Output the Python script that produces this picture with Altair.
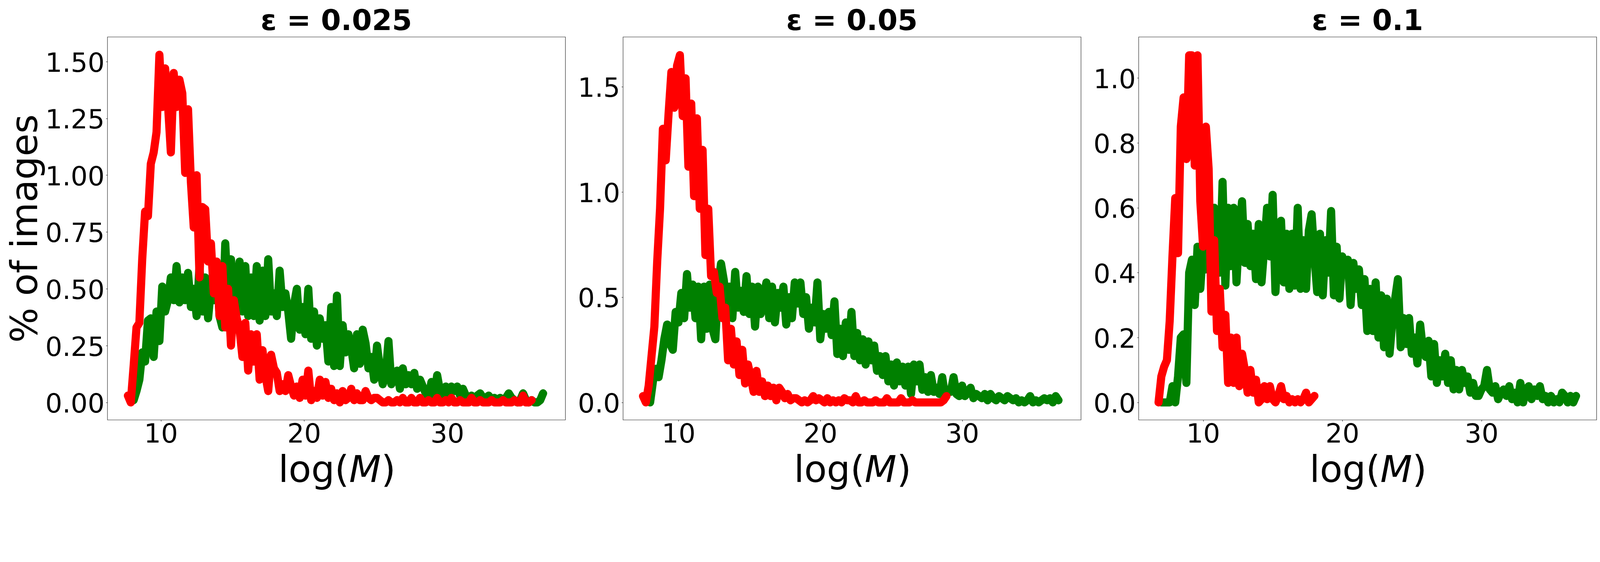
import altair as alt
import pandas as pd

STEP = 0.2  # bin spacing along log(M)

# ---------------- panel 1 : eps = 0.025 ----------------
p1_red_x0 = 7.7
p1_red = [
    0.03, 0.00, 0.16, 0.33, 0.35, 0.63, 0.84, 0.82, 1.05,
    1.10, 1.19, 1.53, 1.30, 1.47, 1.31, 1.10, 1.45, 1.30, 1.42,
    1.36, 1.01, 1.29, 0.97, 0.77, 1.00, 0.55, 0.86, 0.85, 0.62,
    0.70, 0.48, 0.62, 0.38, 0.60, 0.33, 0.50, 0.25, 0.45, 0.37,
    0.32, 0.20, 0.35, 0.14, 0.30, 0.18, 0.30, 0.10, 0.23, 0.12,
    0.05, 0.21, 0.15, 0.13, 0.05, 0.08, 0.05, 0.12, 0.07, 0.03,
    0.07, 0.02, 0.10, 0.03, 0.14, 0.01, 0.05, 0.02, 0.10, 0.03,
    0.09, 0.02, 0.06, 0.01, 0.04, 0.00, 0.05, 0.01, 0.02, 0.06,
    0.01, 0.04, 0.01, 0.01, 0.05, 0.02, 0.01, 0.02, 0.02, 0.01,
    0.00, 0.00, 0.01,
    0.00, 0.00, 0.01, 0.00, 0.02, 0.00, 0.00, 0.02, 0.00, 0.00,
    0.02, 0.00, 0.00, 0.01, 0.00, 0.00, 0.02, 0.00, 0.00, 0.01,
    0.00, 0.02, 0.00, 0.00, 0.01, 0.00, 0.00, 0.00, 0.02, 0.00,
    0.00, 0.01, 0.00, 0.00, 0.00, 0.01, 0.00, 0.00, 0.00, 0.01,
    0.00, 0.00, 0.00, 0.01, 0.00, 0.00, 0.03, 0.00, 0.00, 0.01,
]
p1_green_x0 = 8.1
p1_green = [
    0.01, 0.05, 0.10, 0.22, 0.18, 0.36, 0.37, 0.20, 0.40,
    0.27, 0.51, 0.40, 0.45, 0.55, 0.45, 0.60, 0.44, 0.55, 0.45,
    0.57, 0.42, 0.50, 0.38, 0.60, 0.40, 0.55, 0.37, 0.50, 0.45,
    0.60, 0.38, 0.33, 0.70, 0.45, 0.63, 0.48, 0.42, 0.62, 0.40,
    0.60, 0.38, 0.55, 0.38, 0.60, 0.36, 0.58, 0.38, 0.63, 0.40,
    0.48, 0.38, 0.58, 0.42, 0.48, 0.40, 0.28, 0.43, 0.50, 0.32,
    0.42, 0.30, 0.50, 0.28, 0.40, 0.25, 0.37, 0.28, 0.34, 0.18,
    0.42, 0.16, 0.47, 0.16, 0.34, 0.22, 0.30, 0.24, 0.15, 0.30,
    0.17, 0.32, 0.26, 0.15, 0.20, 0.10, 0.25, 0.15, 0.08, 0.12,
    0.27, 0.08, 0.13, 0.14, 0.06, 0.15, 0.08, 0.12, 0.08, 0.13,
    0.06, 0.10, 0.07, 0.04, 0.02, 0.09, 0.03, 0.12, 0.05, 0.02,
    0.07, 0.03, 0.07, 0.05, 0.07, 0.03, 0.06, 0.03, 0.02, 0.03,
    0.01, 0.03, 0.04, 0.02, 0.02, 0.03, 0.01, 0.02, 0.01, 0.02,
    0.01, 0.02, 0.04, 0.02, 0.01, 0.00, 0.01, 0.04, 0.01, 0.00,
    0.01, 0.00, 0.00, 0.01, 0.04,
]

# ---------------- panel 2 : eps = 0.05 ----------------
p2_red_x0 = 7.5
p2_red = [
    0.03, 0.00, 0.08, 0.22, 0.36, 0.67, 0.92, 1.30, 1.15,
    1.37, 1.57, 1.40, 1.60, 1.65, 1.36, 1.54, 1.12, 1.42, 0.98,
    1.35, 0.92, 1.20, 0.70, 0.92, 0.60, 0.62, 0.52, 0.55, 0.40,
    0.45, 0.20, 0.35, 0.18, 0.29, 0.13, 0.25, 0.09, 0.18, 0.12,
    0.05, 0.15, 0.05, 0.10, 0.03, 0.08, 0.03, 0.07, 0.01, 0.07,
    0.05, 0.02, 0.04, 0.01, 0.02, 0.02, 0.01, 0.00, 0.01, 0.00,
    0.01, 0.03, 0.01, 0.02, 0.01, 0.00, 0.02, 0.00, 0.01, 0.00,
    0.01, 0.00, 0.02, 0.01,
    0.01, 0.00, 0.03, 0.00, 0.00, 0.01, 0.00, 0.00, 0.00, 0.01,
    0.00, 0.00, 0.00, 0.02, 0.00, 0.00, 0.00, 0.00, 0.02, 0.00,
    0.00, 0.00, 0.01, 0.00, 0.00, 0.00, 0.00, 0.00, 0.00, 0.00,
    0.00, 0.00, 0.00, 0.01, 0.03,
]
p2_green_x0 = 8.0
p2_green = [
    0.00, 0.10, 0.16, 0.12, 0.20, 0.30, 0.37, 0.28, 0.25,
    0.43, 0.38, 0.52, 0.40, 0.61, 0.45, 0.56, 0.40, 0.55, 0.30,
    0.55, 0.35, 0.56, 0.35, 0.30, 0.55, 0.66, 0.58, 0.45, 0.55,
    0.40, 0.62, 0.45, 0.53, 0.43, 0.60, 0.42, 0.55, 0.36, 0.55,
    0.42, 0.50, 0.57, 0.40, 0.55, 0.38, 0.52, 0.45, 0.55, 0.37,
    0.50, 0.40, 0.57, 0.47, 0.57, 0.42, 0.50, 0.35, 0.45, 0.38,
    0.57, 0.30, 0.42, 0.35, 0.43, 0.32, 0.48, 0.23, 0.35, 0.22,
    0.38, 0.25, 0.43, 0.22, 0.33, 0.20, 0.30, 0.18, 0.29, 0.20,
    0.27, 0.15, 0.22, 0.13, 0.22, 0.10, 0.18, 0.08, 0.19, 0.10,
    0.17, 0.08, 0.17, 0.04, 0.18, 0.10, 0.18, 0.06, 0.12, 0.05,
    0.13, 0.05, 0.07, 0.04, 0.12, 0.03, 0.06, 0.05, 0.12, 0.04,
    0.03, 0.08, 0.03, 0.05, 0.07, 0.02, 0.04, 0.03, 0.02, 0.04,
    0.01, 0.04, 0.02, 0.01, 0.03, 0.02, 0.01, 0.03, 0.02, 0.01,
    0.02, 0.00, 0.01, 0.00, 0.01, 0.03, 0.00, 0.01, 0.00, 0.01,
    0.02, 0.01, 0.02, 0.00, 0.03, 0.01,
]

# ---------------- panel 3 : eps = 0.1 ----------------
p3_red_x0 = 6.8
p3_red = [
    0.00, 0.08, 0.11, 0.13, 0.25, 0.45, 0.63, 0.46, 0.85, 0.94,
    0.75, 1.07, 1.07, 0.73, 1.07, 0.62, 0.48, 0.85, 0.72, 0.28,
    0.50, 0.22, 0.35, 0.17, 0.27, 0.06, 0.20, 0.06, 0.20, 0.05,
    0.15, 0.10, 0.03, 0.10, 0.03, 0.07, 0.00, 0.01, 0.05, 0.01,
    0.05, 0.01, 0.00, 0.02, 0.05, 0.01, 0.02, 0.00, 0.01, 0.00,
    0.01, 0.00, 0.01, 0.03, 0.00, 0.01, 0.02,
]
p3_green_x0 = 7.0
p3_green = [
    0.00, 0.00, 0.00, 0.00, 0.05, 0.00, 0.08, 0.20, 0.21, 0.06,
    0.40, 0.44, 0.30, 0.48, 0.35, 0.48, 0.41, 0.50, 0.40, 0.60,
    0.57, 0.40, 0.68, 0.36, 0.60, 0.42, 0.60, 0.37, 0.53, 0.62,
    0.43, 0.55, 0.42, 0.52, 0.38, 0.55, 0.37, 0.48, 0.60, 0.45,
    0.64, 0.34, 0.50, 0.56, 0.37, 0.52, 0.35, 0.52, 0.36, 0.60,
    0.35, 0.50, 0.35, 0.53, 0.58, 0.45, 0.34, 0.52, 0.33, 0.50,
    0.40, 0.59, 0.33, 0.48, 0.32, 0.45, 0.40, 0.44, 0.30, 0.43,
    0.35, 0.41, 0.30, 0.38, 0.22, 0.35, 0.22, 0.37, 0.20, 0.33,
    0.17, 0.32, 0.15, 0.25, 0.32, 0.38, 0.17, 0.26, 0.18, 0.26,
    0.15, 0.20, 0.12, 0.24, 0.16, 0.14, 0.19, 0.08, 0.18, 0.06,
    0.13, 0.08, 0.15, 0.06, 0.13, 0.04, 0.10, 0.04, 0.10, 0.06,
    0.08, 0.03, 0.06, 0.02, 0.02, 0.04, 0.05, 0.10, 0.04, 0.03,
    0.05, 0.01, 0.03, 0.04, 0.02, 0.05, 0.01, 0.03, 0.00, 0.06,
    0.00, 0.04, 0.05, 0.01, 0.04, 0.02, 0.05, 0.01, 0.02, 0.00,
    0.02, 0.00, 0.01, 0.00, 0.03, 0.02, 0.00, 0.02, 0.00, 0.02,
]

TITLES = ["ε = 0.025", "ε = 0.05", "ε = 0.1"]
X_DOMAINS = [[6.265, 38.25], [6.085, 38.38], [5.364, 38.27]]
Y_DOMAINS = [[-0.0766, 1.6085], [-0.0827, 1.7367], [-0.0537, 1.1267]]
X_TICKS = [10, 20, 30]
Y_TICKS = [
    [0.0, 0.25, 0.5, 0.75, 1.0, 1.25, 1.5],
    [0.0, 0.5, 1.0, 1.5],
    [0.0, 0.2, 0.4, 0.6, 0.8, 1.0],
]
Y_FORMATS = [".2f", ".1f", ".1f"]
Y_TITLE = "% of images"
X_TITLE_PARTS = ["log(", "M", ")"]

W, H = 1239, 1037
FONT = "DejaVu Sans"
RED, GREEN = "#ff0000", "#008000"
LW = 22


def to_df(x0, values):
    return pd.DataFrame(
        {"x": [round(x0 + i * STEP, 3) for i in range(len(values))], "y": values}
    )


def panel(i, red_x0, red, green_x0, green):
    xs = alt.Scale(domain=X_DOMAINS[i], nice=False, zero=False)
    ys = alt.Scale(domain=Y_DOMAINS[i], nice=False, zero=False)
    xaxis = alt.Axis(values=X_TICKS, format="d", title=None, labelPadding=0)
    if i == 0:
        yaxis = alt.Axis(
            values=Y_TICKS[i], format=Y_FORMATS[i], title=Y_TITLE,
            titleFont=FONT, titleFontSize=100, titleFontWeight="normal",
            titleColor="black", titleAngle=270, titleAlign="center",
            titleBaseline="alphabetic", titleX=-191, titleY=H / 2,
            labelPadding=4, labelOffset=5,
        )
    else:
        yaxis = alt.Axis(
            values=Y_TICKS[i], format=Y_FORMATS[i], title=None,
            labelPadding=4, labelOffset=5, minExtent=154,
        )

    def line(df, color):
        return alt.Chart(df).mark_line(
            color=color, strokeWidth=LW, strokeCap="round", strokeJoin="round"
        ).encode(
            x=alt.X("x:Q", scale=xs, axis=xaxis),
            y=alt.Y("y:Q", scale=ys, axis=yaxis),
        )

    g = line(to_df(green_x0, green), GREEN)
    r = line(to_df(red_x0, red), RED)

    def label(txt, xpos, ypos, align, size, style="normal", weight="normal"):
        return alt.Chart(pd.DataFrame({"t": [txt]})).mark_text(
            font=FONT, fontSize=size, align=align, baseline="alphabetic",
            color="black", fontStyle=style, fontWeight=weight,
        ).encode(x=alt.value(xpos), y=alt.value(ypos), text="t:N")

    t1 = label(X_TITLE_PARTS[0], 654, 1205, "right", 100)
    t2 = label(X_TITLE_PARTS[1], 654, 1205, "left", 100, style="italic")
    t3 = label(X_TITLE_PARTS[2], 741, 1205, "left", 100)
    tt = label(TITLES[i], W / 2, -18, "center", 78, weight="bold")

    return alt.layer(g, r, t1, t2, t3, tt).properties(width=W, height=H)


chart = alt.hconcat(
    panel(0, p1_red_x0, p1_red, p1_green_x0, p1_green),
    panel(1, p2_red_x0, p2_red, p2_green_x0, p2_green),
    panel(2, p3_red_x0, p3_red, p3_green_x0, p3_green),
    spacing=0,
).properties(
    padding={"left": 10, "top": -26, "right": 0, "bottom": 0}, background="white"
).configure_view(
    stroke="#222222", strokeWidth=1.2
).configure_axis(
    labelFont=FONT, labelFontSize=72, labelColor="black",
    tickColor="#222222", tickSize=4, tickWidth=1.2,
    domain=False, grid=False, labelOverlap=False, labelFlush=False,
)

chart.save("out.html", embed_options={"renderer": "svg", "actions": False})
